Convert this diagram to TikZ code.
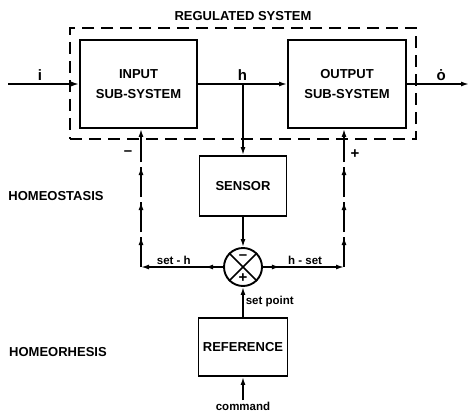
\documentclass[tikz,border=0pt]{standalone}
\usepackage{fontspec}
\setmainfont{Liberation Sans}
\usepackage{tikz}
\usetikzlibrary{arrows.meta, positioning, decorations.markings}

\begin{document}
\begin{tikzpicture}[x=1pt, y=1pt, >={Latex[length=8pt,width=5pt]}, line width=1.5pt,
  font=\bfseries\fontsize{13}{15}\selectfont,
  block/.style={draw, line width=1.9pt, align=center, font=\bfseries\fontsize{13}{20}\selectfont},
  tag/.style={font=\bfseries\fontsize{11.5}{13}\selectfont, inner sep=2pt},
  sign/.style={font=\bfseries\fontsize{15}{15}\selectfont, inner sep=0pt},
  midtip/.style={postaction={decorate, decoration={markings, mark=at position #1 with {\arrow{>}}}}},
  feedback/.style={dash pattern=on 30pt off 5pt,
    postaction={decorate, decoration={markings,
      mark=at position 30pt with {\arrow{>}},
      mark=at position 65pt with {\arrow{>}},
      mark=at position 100pt with {\arrow{>}}}}},
]
  \useasboundingbox (0,0) rectangle (470,413);

  % Regulated system
  \node[draw, line width=1.9pt, dash pattern=on 12pt off 7pt, minimum width=346pt, minimum height=111pt] (sys) at (243,329.5) {};
  \node[above=2pt of sys] (title) {REGULATED SYSTEM};
  \node[block, minimum width=117pt, minimum height=88pt] (inp) at (138.5,329) {INPUT\\SUB-SYSTEM};
  \node[block, minimum width=118pt, minimum height=88pt] (outp) at (347,329) {OUTPUT\\SUB-SYSTEM};
  \coordinate (src) at (8,329);
  \coordinate (sink) at (469,329);
  \draw[->] (src) -- node[above=3pt, pos=0.45, sign] (ilab) {i} (inp.west);
  \draw[->] (inp.east) -- node[above=3pt, sign] (hlab) {h} (outp.west);
  \draw[->] (outp.east) -- node[above=3pt, pos=0.55, sign] (olab) {ȯ} (sink);

  % Sensor and comparator
  \node[block, minimum width=87pt, minimum height=60pt] (sensor) at (243,227) {SENSOR};
  \node[draw, circle, line width=1.9pt, minimum size=38pt, inner sep=0pt] (comp) at (243,146) {};
  \draw (comp.north east) -- (comp.south west);
  \draw (comp.north west) -- (comp.south east);
  \node[sign] at (243,156) {–};
  \node[sign] at (243,135) {+};
  \coordinate (tap) at (sensor |- inp.east);
  \draw[->] (tap) -- (sensor.north);
  \draw[->] (sensor.south) -- (comp.north);

  % Feedback paths
  \coordinate (lc) at (141,146);
  \coordinate (rc) at (344,146);
  \draw[->, midtip=18pt] (comp.west) -- node[above, tag, pos=0.6] (shlab) {set - h} (lc);
  \draw[->, midtip=17pt] (comp.east) -- node[above, tag, pos=0.52] (hslab) {h - set} (rc);
  \draw[->, feedback] (lc) -- (lc |- inp.south);
  \draw[->, feedback] (rc) -- (rc |- outp.south);
  \node[sign] (minus) at (128,260) {–};
  \node[sign] (plus) at (355,259) {+};

  % Reference
  \node[block, minimum width=89pt, minimum height=58pt] (ref) at (243,66) {REFERENCE};
  \node[tag, inner sep=1pt] (cmd) at (243,7) {command};
  \draw[->] (ref.north) -- node[right, tag] (splab) {set point} (comp.south);
  \draw[->] (cmd.north) -- (ref.south);

  % Levels
  \node (stasis) at (56,217) {HOMEOSTASIS};
  \node (rhesis) at (58,61) {HOMEORHESIS};
\end{tikzpicture}
\end{document}
